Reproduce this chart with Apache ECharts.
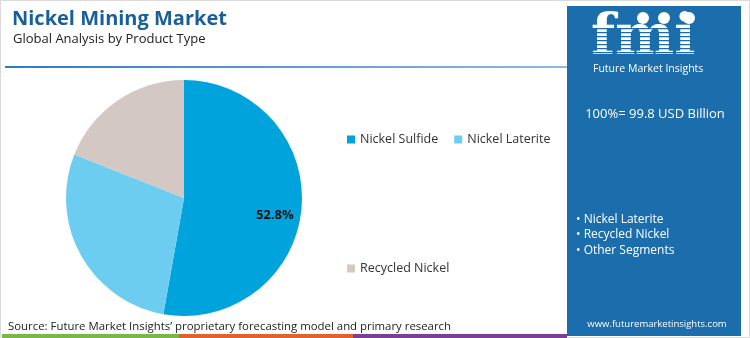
<!DOCTYPE html>
<html><head><meta charset="utf-8">
<script src="https://cdn.jsdelivr.net/npm/echarts@6/dist/echarts.min.js"></script>
<style>html,body{margin:0;padding:0;background:#fff}#c{width:750px;height:338px}</style>
</head><body><div id="c"></div>
<script>
const categories = ['Nickel Sulfide', 'Nickel Laterite', 'Recycled Nickel'];
const shares = [52.8, 28.2, 19.0];
const colors = ['#00A3DC', '#6DCDF0', '#D3C8C3'];
const titleText = 'Nickel Mining Market';
const subtitleText = 'Global Analysis by Product Type';
const totalText = '100%= 99.8 USD Billion';
const bullets = ['• Nickel Laterite', '• Recycled Nickel', '• Other Segments'];
const sourceText = 'Source: Future Market Insights’ proprietary forecasting model and primary research';

const FONT = 'Open Sans';
const PANEL = '#1B6DAC';
const chart = echarts.init(document.getElementById('c'));

const stripes = [];
for (let y = 28; y <= 56; y += 4) {
  stripes.push({type:'rect', shape:{x:590, y:y, width:122, height:1.3}, style:{fill:PANEL}, z:12});
}

chart.setOption({
  animation: false,
  textStyle: {fontFamily: FONT},
  title: [
    {text: titleText, left: 7, top: 4, textStyle:{fontFamily:FONT, fontSize:20, fontWeight:'bold', color:'#1A5E9A'}},
    {text: subtitleText, left: 8, top: 28, textStyle:{fontFamily:FONT, fontSize:13, fontWeight:'normal', color:'#222'}}
  ],
  legend: [
    {left: 342, top: 128, icon:'rect', itemWidth: 8, itemHeight: 8, itemGap: 16, data:[categories[0], categories[1]], textStyle:{fontFamily:FONT, fontSize:12.5, color:'#333'}, selectedMode:false},
    {left: 342, top: 257, icon:'rect', itemWidth: 8, itemHeight: 8, data:[categories[2]], textStyle:{fontFamily:FONT, fontSize:12.5, color:'#333'}, selectedMode:false}
  ],
  graphic: [
    {type:'rect', shape:{x:0.5, y:0.5, width:749, height:337}, style:{fill:'none', stroke:'#DADADA', lineWidth:1}, z:1},
    {type:'rect', shape:{x:5, y:66, width:562, height:2}, style:{fill:new echarts.graphic.LinearGradient(0,0,1,0,[{offset:0,color:'#2E7BC0'},{offset:1,color:'#8DBBE0'}])}, z:2},
    {type:'rect', shape:{x:567, y:6, width:174, height:330}, style:{fill:PANEL}, z:10},
    {type:'text', left: 591, top: 11, style:{text:'fmi', fill:'#fff', font:'bold 56px "DejaVu Serif"'}, z:11},
    ...stripes,
    {type:'circle', shape:{cx:643, cy:18, r:6}, style:{fill:'#fff'}, z:13},
    {type:'circle', shape:{cx:664, cy:18, r:6}, style:{fill:'#fff'}, z:13},
    {type:'circle', shape:{cx:689, cy:18, r:6}, style:{fill:'#fff'}, z:13},
    {type:'text', left: 593, top: 64, style:{text:'Future Market Insights', fill:'#fff', font:'10.5px "Open Sans"'}, z:11},
    {type:'text', x: 655, y: 114, style:{text: totalText, fill:'#fff', font:'13px "Open Sans"', align:'center', verticalAlign:'middle'}, z:11},
    {type:'text', x: 576, y: 220, style:{text: bullets[0], fill:'#fff', font:'12px "Open Sans"', verticalAlign:'middle'}, z:11},
    {type:'text', x: 576, y: 235, style:{text: bullets[1], fill:'#fff', font:'12px "Open Sans"', verticalAlign:'middle'}, z:11},
    {type:'text', x: 576, y: 251, style:{text: bullets[2], fill:'#fff', font:'12px "Open Sans"', verticalAlign:'middle'}, z:11},
    {type:'text', x: 657, y: 324, style:{text:'www.futuremarketinsights.com', fill:'#fff', font:'9.5px "Open Sans"', align:'center', verticalAlign:'middle'}, z:11},
    {type:'text', x: 8, y: 327, style:{text: sourceText, fill:'#222', font:'11.4px "Open Sans"', verticalAlign:'middle'}, z:11},
    {type:'rect', shape:{x:2, y:334, width:177, height:4}, style:{fill:'#7AB648'}, z:11},
    {type:'rect', shape:{x:179, y:334, width:174, height:4}, style:{fill:'#E0622C'}, z:11},
    {type:'rect', shape:{x:353, y:334, width:214, height:4}, style:{fill:'#7B3F98'}, z:11}
  ],
  series: [{
    type: 'pie',
    center: [184, 198],
    radius: [0, 118],
    startAngle: 90,
    clockwise: true,
    silent: true,
    label: {show: false},
    labelLine: {show: false},
    data: categories.map((n, i) => ({
      name: n, value: shares[i], itemStyle: {color: colors[i]},
      label: i === 0 ? {show: true, position: 'inside', formatter: p => p.value.toFixed(1) + '%', fontFamily: FONT, fontSize: 13, fontWeight: 'bold', color: '#111'} : {show: false}
    })),
    labelLayout: p => p.dataIndex === 0 ? {dx: 29, dy: 12} : {}
  }]
});
</script></body></html>
